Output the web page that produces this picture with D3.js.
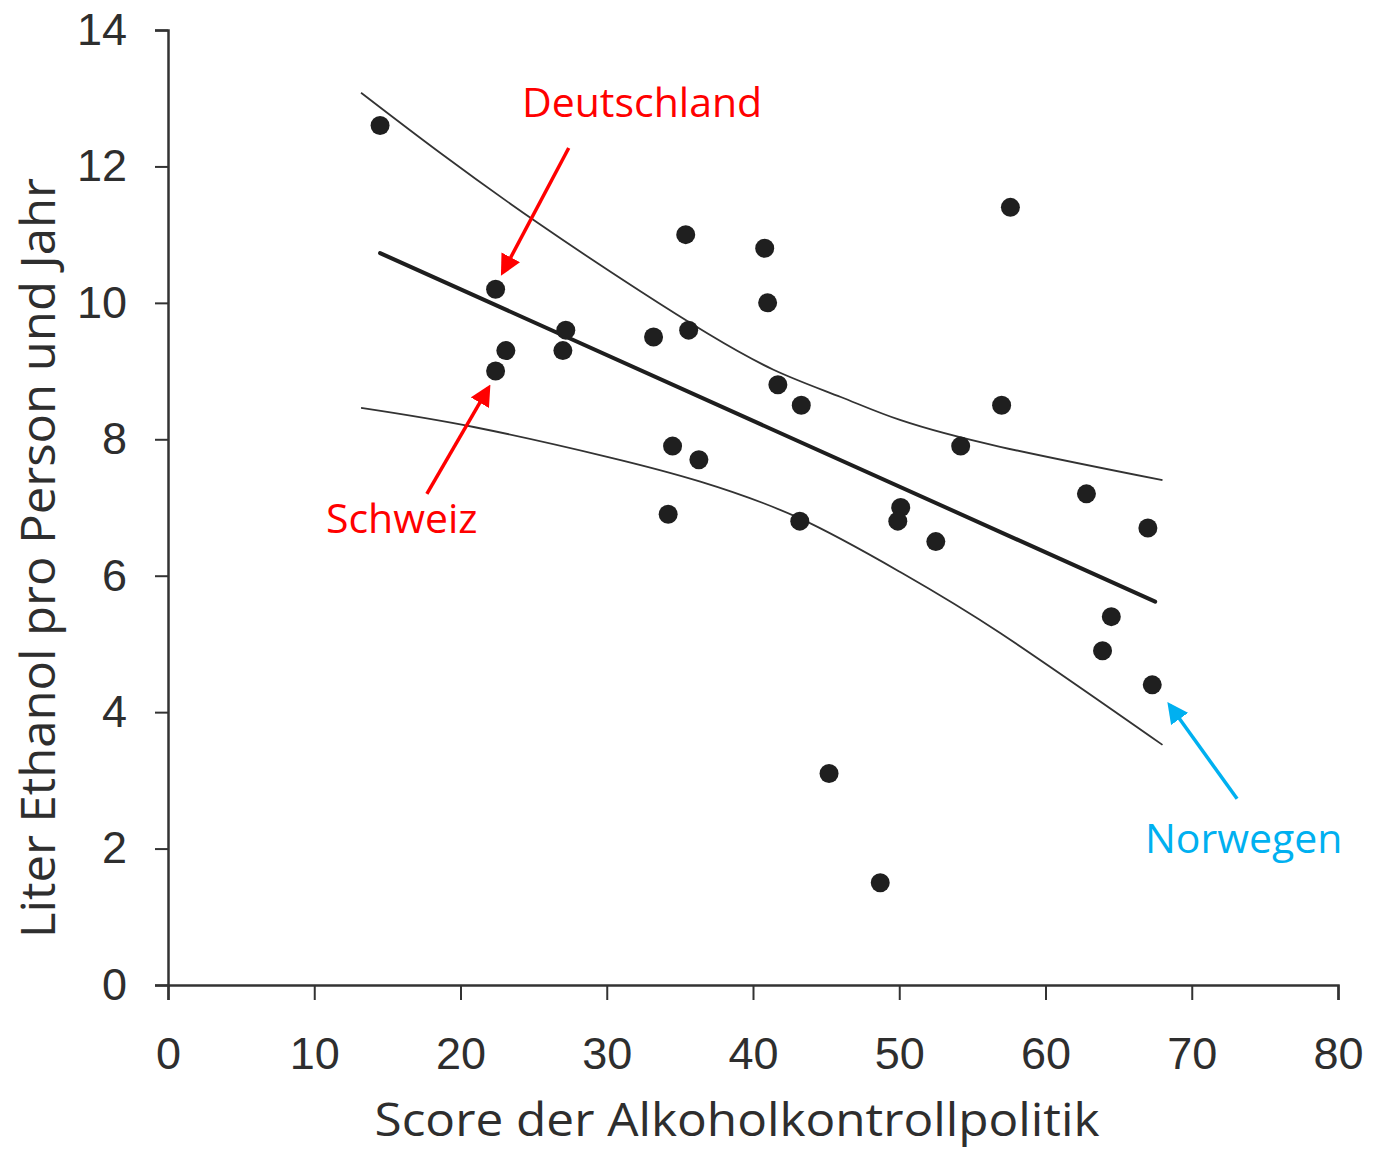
<!DOCTYPE html>
<html>
<head>
<meta charset="utf-8">
<script src="https://cdn.jsdelivr.net/npm/d3@7"></script>
<style>
  body { margin: 0; background: #fff; }
  svg { display: block; }
</style>
</head>
<body>
<div id="chart"></div>
<script>
(() => {
  // scatter points: policy score vs. litres of ethanol
  const scores = [14.5, 22.4, 23.1, 22.4, 27.2, 27.0, 33.2, 35.4, 35.6, 34.5, 36.3, 34.2,
                  40.8, 41.0, 41.7, 43.3, 43.2, 45.2, 48.7, 50.1, 49.9, 52.5, 54.2, 57.0,
                  57.6, 62.8, 67.0, 64.5, 63.9, 67.3];
  const liters = [12.6, 10.2, 9.3, 9.0, 9.6, 9.3, 9.5, 11.0, 9.6, 7.9, 7.7, 6.9,
                  10.8, 10.0, 8.8, 8.5, 6.8, 3.1, 1.5, 7.0, 6.8, 6.5, 7.9, 8.5,
                  11.4, 7.2, 6.7, 5.4, 4.9, 4.4];

  // regression line and confidence band
  const fitX   = [14.5, 67.5];
  const fitY   = [10.73, 5.62];
  const upperX = [13.2, 18.6, 25.3, 32.3, 36.9, 41.4, 46.0, 50.1, 56.9, 68.0];
  const upperY = [13.08, 12.2, 11.17, 10.17, 9.55, 9.02, 8.62, 8.28, 7.89, 7.4];
  const lowerX = [13.2, 20.9, 30.1, 36.4, 43.2, 50.1, 56.9, 68.0];
  const lowerY = [8.46, 8.18, 7.74, 7.38, 6.84, 6.05, 5.16, 3.52];

  const xTicks = [0, 10, 20, 30, 40, 50, 60, 70, 80];
  const yTicks = [0, 2, 4, 6, 8, 10, 12, 14];

  // annotations (label, arrow tail -> head, in data units)
  const notes = [
    { label: 'Deutschland', color: '#ff0000', tx: 24.2, ty: 12.72, x1: 27.4, y1: 12.27, x2: 22.9, y2: 10.45 },
    { label: 'Schweiz',     color: '#ff0000', tx: 10.8, ty: 6.63,  x1: 17.7, y1: 7.2,   x2: 21.9, y2: 8.75 },
    { label: 'Norwegen',    color: '#00b0f0', tx: 66.8, ty: 1.93,  x1: 73.1, y1: 2.73,  x2: 68.5, y2: 4.1 }
  ];

  const W = 1373, H = 1151;
  const x = d3.scaleLinear().domain([0, 80]).range([168, 1338]);
  const y = d3.scaleLinear().domain([0, 14]).range([985, 30]);

  const svg = d3.select('#chart').append('svg')
      .attr('width', W).attr('height', H);

  const defs = svg.append('defs');
  notes.forEach((n, i) => {
    defs.append('marker')
        .attr('id', 'arrow' + i)
        .attr('viewBox', '0 0 10 10')
        .attr('refX', 8).attr('refY', 5)
        .attr('markerWidth', 6).attr('markerHeight', 6)
        .attr('markerUnits', 'strokeWidth')
        .attr('orient', 'auto')
      .append('path')
        .attr('d', 'M0,0 L10,5 L0,10 Z')
        .attr('fill', n.color);
  });

  const axisColor = '#333';
  const tickFont = '"Liberation Sans", Arial, sans-serif';

  // X axis
  const gx = svg.append('g')
      .attr('transform', `translate(0,${y(0)})`)
      .call(d3.axisBottom(x).tickValues(xTicks).tickSize(15).tickPadding(37));
  // Y axis
  const gy = svg.append('g')
      .attr('transform', `translate(${x(0)},0)`)
      .call(d3.axisLeft(y).tickValues(yTicks).tickSize(13).tickPadding(28));

  [gx, gy].forEach(g => {
    g.select('.domain').attr('stroke', axisColor).attr('stroke-width', 2.5);
    g.selectAll('.tick line').attr('stroke', axisColor).attr('stroke-width', 2);
    g.selectAll('.tick text')
      .attr('fill', '#2e2e2e')
      .style('font-family', tickFont)
      .style('font-size', '45px');
  });

  // Axis titles
  svg.append('text')
      .attr('x', 737).attr('y', 1136)
      .attr('text-anchor', 'middle')
      .attr('textLength', 725).attr('lengthAdjust', 'spacingAndGlyphs')
      .attr('fill', '#2e2e2e')
      .style('font-family', '"Open Sans", sans-serif')
      .style('font-size', '45px')
      .text('Score der Alkoholkontrollpolitik');

  svg.append('text')
      .attr('transform', 'translate(55,558) rotate(-90)')
      .attr('text-anchor', 'middle')
      .attr('textLength', 760).attr('lengthAdjust', 'spacingAndGlyphs')
      .attr('fill', '#2e2e2e')
      .style('font-family', '"Open Sans", sans-serif')
      .style('font-size', '47px')
      .text('Liter Ethanol pro Person und Jahr');

  // Confidence band and fit
  const line = d3.line().x(d => x(d[0])).y(d => y(d[1])).curve(d3.curveNatural);

  svg.append('path')
      .datum(d3.zip(upperX, upperY))
      .attr('d', line)
      .attr('fill', 'none').attr('stroke', '#333').attr('stroke-width', 1.8);

  svg.append('path')
      .datum(d3.zip(lowerX, lowerY))
      .attr('d', line)
      .attr('fill', 'none').attr('stroke', '#333').attr('stroke-width', 1.8);

  svg.append('path')
      .datum(d3.zip(fitX, fitY))
      .attr('d', line)
      .attr('fill', 'none').attr('stroke', '#1e1e1e').attr('stroke-width', 4)
      .attr('stroke-linecap', 'round');

  // Points
  svg.selectAll('.dot')
    .data(d3.zip(scores, liters))
    .enter().append('circle')
      .attr('class', 'dot')
      .attr('cx', d => x(d[0]))
      .attr('cy', d => y(d[1]))
      .attr('r', 9.5)
      .attr('fill', '#1f1f1f');

  // Annotations
  notes.forEach((n, i) => {
    svg.append('line')
        .attr('x1', x(n.x1)).attr('y1', y(n.y1))
        .attr('x2', x(n.x2)).attr('y2', y(n.y2))
        .attr('stroke', n.color).attr('stroke-width', 3.5)
        .attr('marker-end', `url(#arrow${i})`);
    svg.append('text')
        .attr('x', x(n.tx)).attr('y', y(n.ty))
        .attr('fill', n.color)
        .style('font-family', '"Open Sans", sans-serif')
        .style('font-size', '41px')
        .text(n.label);
  });
})();
</script>
</body>
</html>
